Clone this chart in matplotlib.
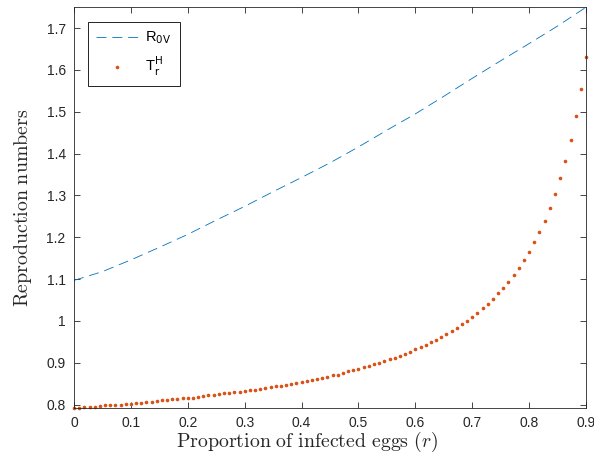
import numpy as np
import matplotlib
matplotlib.use("Agg")
import matplotlib.pyplot as plt
from matplotlib.font_manager import FontProperties

# R_0V (dashed line), read at steps of 0.05
r_line = [0.0, 0.05, 0.1, 0.15, 0.2, 0.25, 0.3, 0.35, 0.4, 0.45,
          0.5, 0.55, 0.6, 0.65, 0.7, 0.75, 0.8, 0.85, 0.9]
R0V = [1.097, 1.118, 1.146, 1.176, 1.207, 1.241, 1.274, 1.309, 1.343, 1.378,
       1.416, 1.456, 1.495, 1.537, 1.580, 1.622, 1.663, 1.705, 1.750]

# T_r^H (dots), 100 samples between 0 and 0.9
r_dots = np.linspace(0, 0.9, 100)
TrH = [0.792, 0.793, 0.794, 0.794, 0.795, 0.797, 0.798, 0.798, 0.799, 0.800,
       0.801, 0.802, 0.804, 0.805, 0.806, 0.807, 0.809, 0.810, 0.811, 0.813,
       0.814, 0.815, 0.816, 0.817, 0.819, 0.821, 0.822, 0.824, 0.825, 0.827,
       0.828, 0.830, 0.831, 0.832, 0.834, 0.836, 0.838, 0.840, 0.842, 0.844,
       0.845, 0.848, 0.849, 0.852, 0.854, 0.856, 0.859, 0.861, 0.864, 0.867,
       0.870, 0.872, 0.876, 0.880, 0.883, 0.886, 0.889, 0.893, 0.896, 0.900,
       0.904, 0.908, 0.912, 0.917, 0.922, 0.926, 0.932, 0.937, 0.943, 0.949,
       0.955, 0.962, 0.968, 0.976, 0.984, 0.992, 1.000, 1.010, 1.020, 1.030,
       1.041, 1.053, 1.066, 1.079, 1.094, 1.109, 1.127, 1.145, 1.165, 1.188,
       1.212, 1.239, 1.269, 1.303, 1.341, 1.383, 1.432, 1.489, 1.554, 1.632]

x_ticks = [0, 0.1, 0.2, 0.3, 0.4, 0.5, 0.6, 0.7, 0.8, 0.9]
x_ticklabels = ["0", "0.1", "0.2", "0.3", "0.4", "0.5", "0.6", "0.7", "0.8", "0.9"]
y_ticks = [0.8, 0.9, 1.0, 1.1, 1.2, 1.3, 1.4, 1.5, 1.6, 1.7]
y_ticklabels = ["0.8", "0.9", "1", "1.1", "1.2", "1.3", "1.4", "1.5", "1.6", "1.7"]

plt.rcParams["font.family"] = ["Liberation Sans", "DejaVu Sans"]
plt.rcParams["mathtext.fontset"] = "cm"

blue = "#0072BD"
orange = "#D95319"
axcol = "#262626"

fig = plt.figure(figsize=(5.94, 4.68), dpi=100)
ax = fig.add_axes([0.1246, 0.1282, 0.862, 0.857])

ax.plot(r_line, R0V, linestyle=(0, (12, 7)), color=blue, linewidth=0.6,
        label=r"R$_{\mathrm{0V}}$")
ax.plot(r_dots, TrH, linestyle="none", marker="o", markersize=1.6,
        color=orange, label=r"T$_{\mathrm{r}}^{\mathrm{H}}$", clip_on=False)

ax.set_xlim(0, 0.9)
ax.set_ylim(0.792, 1.7506)
ax.set_xticks(x_ticks)
ax.set_xticklabels(x_ticklabels)
ax.set_yticks(y_ticks)
ax.set_yticklabels(y_ticklabels)
ax.tick_params(direction="in", length=4, width=0.6, colors=axcol,
               labelsize=10, top=True, right=True, pad=6)
for s in ax.spines.values():
    s.set_color(axcol)
    s.set_linewidth(0.6)

ax.set_xlabel(r"$\mathrm{Proportion\ of\ infected\ eggs}\ (r)$", fontsize=14.3,
              color=axcol, labelpad=3)
ax.xaxis.set_label_coords(0.455, -0.055)
ax.set_ylabel(r"$\mathrm{Reproduction\ numbers}$", fontsize=14.3,
              color=axcol, labelpad=9)

leg_font = FontProperties(family=["Liberation Sans", "DejaVu Sans"], size=10.5,
                          math_fontfamily="dejavusans")
leg = ax.legend(loc="upper left", bbox_to_anchor=(0.027, 0.963), prop=leg_font,
                numpoints=1, handlelength=2.9, handletextpad=0.5,
                fancybox=False, framealpha=1,
                edgecolor="black", borderaxespad=0, borderpad=0.55,
                labelspacing=0.6)
leg.get_frame().set_linewidth(0.6)

fig.savefig("out.png", dpi=100)
